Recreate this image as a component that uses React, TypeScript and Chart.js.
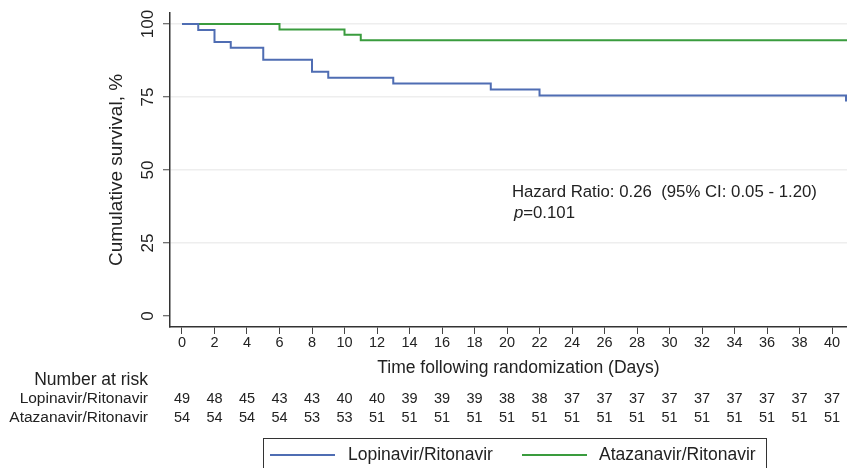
import React, { useEffect, useRef } from 'react';
import { Chart, registerables } from 'chart.js';

Chart.register(...registerables);

// Kaplan-Meier step data (time in days, cumulative survival %)
const lopTimes = [0, 1, 2, 3, 5, 8, 9, 13, 19, 22, 40.86];
const lopSurvival = [100, 97.96, 93.88, 91.84, 87.76, 83.67, 81.63, 79.59, 77.55, 75.51, 73.5];
const ataTimes = [0, 6, 10, 11, 40.92];
const ataSurvival = [100, 98.15, 96.3, 94.44, 94.44];

const xTicks = [0, 2, 4, 6, 8, 10, 12, 14, 16, 18, 20, 22, 24, 26, 28, 30, 32, 34, 36, 38, 40];
const yTicks = [0, 25, 50, 75, 100];

const lopRisk = [49, 48, 45, 43, 43, 40, 40, 39, 39, 39, 38, 38, 37, 37, 37, 37, 37, 37, 37, 37, 37];
const ataRisk = [54, 54, 54, 54, 53, 53, 51, 51, 51, 51, 51, 51, 51, 51, 51, 51, 51, 51, 51, 51, 51];

const seriesNames = ['Lopinavir/Ritonavir', 'Atazanavir/Ritonavir'];
const seriesColors = ['#4f6db3', '#3a9c3e'];

const xTitle = 'Time following randomization (Days)';
const yTitle = 'Cumulative survival, %';
const riskTitle = 'Number at risk';
const hrText = 'Hazard Ratio: 0.26  (95% CI: 0.05 - 1.20)';
const pLabel = 'p';
const pValueText = '=0.101';

const FONT = '"Liberation Sans", Arial, Helvetica, sans-serif';
const TEXT = '#222222';

const textPlugin = {
  id: 'kmText',
  afterDraw(chart: any) {
    const ctx = chart.ctx as CanvasRenderingContext2D;
    const xs = chart.scales.x;
    const ys = chart.scales.y;
    const area = chart.chartArea;
    ctx.save();
    ctx.fillStyle = TEXT;

    // y tick labels (rotated)
    ctx.font = `17px ${FONT}`;
    ctx.textAlign = 'center';
    ctx.textBaseline = 'middle';
    yTicks.forEach((v) => {
      const y = ys.getPixelForValue(v);
      ctx.save();
      ctx.translate(area.left - 22, y);
      ctx.rotate(-Math.PI / 2);
      ctx.fillText(String(v), 0, 0);
      ctx.restore();
    });

    // y title
    ctx.font = `19px ${FONT}`;
    ctx.save();
    ctx.translate(area.left - 53, (area.top + area.bottom) / 2);
    ctx.rotate(-Math.PI / 2);
    ctx.fillText(yTitle, 0, 0);
    ctx.restore();

    // x tick labels
    ctx.font = `14.5px ${FONT}`;
    xTicks.forEach((v) => {
      ctx.fillText(String(v), xs.getPixelForValue(v), area.bottom + 16);
    });

    // x title
    ctx.font = `17.5px ${FONT}`;
    ctx.fillText(xTitle, xs.getPixelForValue(20.7), area.bottom + 41);

    // risk table
    ctx.textAlign = 'right';
    ctx.font = `17.5px ${FONT}`;
    ctx.fillText(riskTitle, area.left - 22, area.bottom + 53);
    ctx.font = `15.5px ${FONT}`;
    ctx.fillText(seriesNames[0], area.left - 22, area.bottom + 72);
    ctx.fillText(seriesNames[1], area.left - 22, area.bottom + 91);
    ctx.textAlign = 'center';
    ctx.font = `14.5px ${FONT}`;
    xTicks.forEach((v, i) => {
      const x = xs.getPixelForValue(v);
      ctx.fillText(String(lopRisk[i]), x, area.bottom + 72);
      ctx.fillText(String(ataRisk[i]), x, area.bottom + 91);
    });

    // annotation
    ctx.textAlign = 'left';
    ctx.font = `16.8px ${FONT}`;
    const hx = xs.getPixelForValue(20.3);
    ctx.fillText(hrText, hx, ys.getPixelForValue(42.5));
    const py = ys.getPixelForValue(35.3);
    ctx.font = `italic 16.8px ${FONT}`;
    ctx.fillText(pLabel, hx + 2, py);
    const pw = ctx.measureText(pLabel).width;
    ctx.font = `16.8px ${FONT}`;
    ctx.fillText(pValueText, hx + 2 + pw, py);

    // legend box
    const lx = 263.5;
    const ly = 438.5;
    ctx.strokeStyle = '#333';
    ctx.lineWidth = 1;
    ctx.strokeRect(lx, ly, 503, 60);
    const legY = 455;
    const items = [
      { x1: 270, x2: 335, tx: 348 },
      { x1: 522, x2: 587, tx: 599 },
    ];
    ctx.font = `17.5px ${FONT}`;
    ctx.textBaseline = 'middle';
    items.forEach((it, i) => {
      ctx.strokeStyle = seriesColors[i];
      ctx.lineWidth = 2;
      ctx.beginPath();
      ctx.moveTo(it.x1, legY);
      ctx.lineTo(it.x2, legY);
      ctx.stroke();
      ctx.fillStyle = TEXT;
      ctx.fillText(seriesNames[i], it.tx, legY);
    });

    ctx.restore();
  },
};

export default function App() {
  const ref = useRef<HTMLCanvasElement | null>(null);

  useEffect(() => {
    if (!ref.current) return;
    const chart = new Chart(ref.current, {
      type: 'line',
      data: {
        datasets: [
          {
            label: seriesNames[0],
            data: lopTimes.map((t, i) => ({ x: t, y: lopSurvival[i] })),
            borderColor: seriesColors[0],
            borderWidth: 2,
            pointRadius: 0,
            stepped: 'before',
            fill: false,
          },
          {
            label: seriesNames[1],
            data: ataTimes.map((t, i) => ({ x: t, y: ataSurvival[i] })),
            borderColor: seriesColors[1],
            borderWidth: 2,
            pointRadius: 0,
            stepped: 'before',
            fill: false,
          },
        ],
      },
      options: {
        animation: false,
        responsive: false,
        devicePixelRatio: 1,
        layout: { padding: { left: 0, right: 0, top: 13, bottom: 0 } },
        plugins: { legend: { display: false }, tooltip: { enabled: false } },
        scales: {
          x: {
            type: 'linear',
            min: -0.738,
            max: 40.92,
            afterBuildTicks: (s: any) => {
              s.ticks = xTicks.map((v) => ({ value: v }));
            },
            afterFit: (s: any) => {
              s.height = 141;
            },
            ticks: { display: false },
            grid: {
              drawOnChartArea: false,
              drawTicks: true,
              tickLength: 7,
              tickColor: '#444',
              tickWidth: 1,
            },
            border: { display: true, color: '#333', width: 1.5 },
          },
          y: {
            type: 'linear',
            min: -3.77,
            max: 103.77,
            afterBuildTicks: (s: any) => {
              s.ticks = yTicks.map((v) => ({ value: v }));
            },
            afterFit: (s: any) => {
              s.width = 170;
            },
            ticks: { display: false },
            grid: {
              color: (c: any) => (c.tick && c.tick.value === 0 ? 'rgba(0,0,0,0)' : '#eeeeee'),
              lineWidth: 1.5,
              drawTicks: true,
              tickLength: 7,
              tickColor: '#444',
              tickWidth: 1,
            },
            border: { display: true, color: '#333', width: 1.5 },
          },
        },
      },
      plugins: [textPlugin],
    });
    return () => chart.destroy();
  }, []);

  return (
    <div style={{ position: 'fixed', left: 0, top: 0, width: 847, height: 468, background: '#fff' }}>
      <canvas ref={ref} width={847} height={468} style={{ display: 'block' }} />
    </div>
  );
}
